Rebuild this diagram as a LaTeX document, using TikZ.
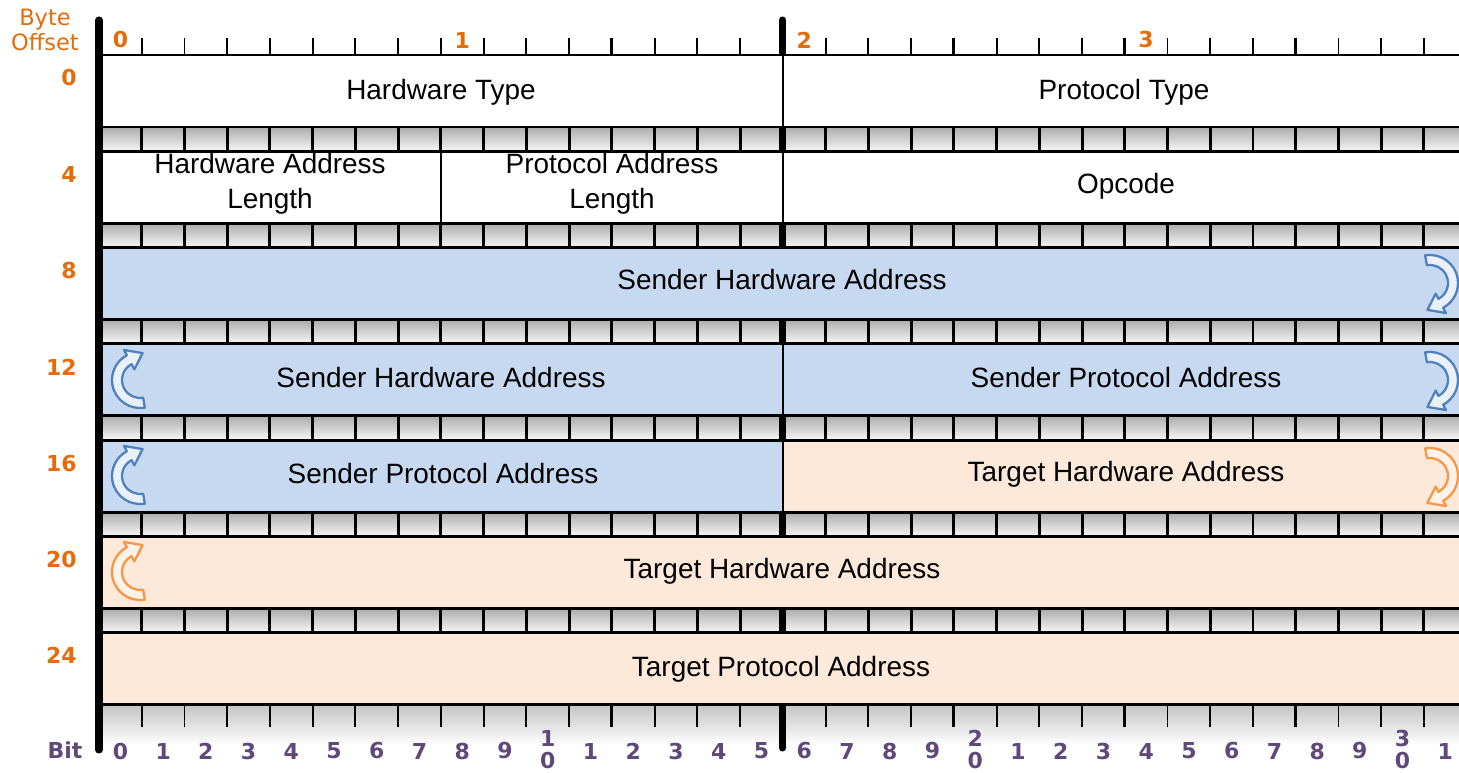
\documentclass[tikz,border=0pt]{standalone}
\usepackage{fontspec}
\setmainfont{Liberation Sans}
\newfontfamily\rulerfont{DejaVu Sans}
\usepackage{tikz}
\usetikzlibrary{calc}

\definecolor{offsetorange}{HTML}{E46C0A}
\definecolor{bitpurple}{HTML}{5F497A}
\definecolor{senderblue}{HTML}{C6D9F1}
\definecolor{targetpeach}{HTML}{FDE9D9}
\definecolor{arrowblue}{HTML}{4F81BD}
\definecolor{arrowpeach}{HTML}{F79646}

% hollow bent arrow: colour, centre x, centre y, rotation
\newcommand{\wraparrow}[4]{%
  \begin{scope}[shift={(#2,#3)},x=0.02cm,y=0.02cm,rotate=#4]
    \draw[#1,line width=1.3pt,fill=#1!12,line join=round]
      (100:28) arc[start angle=100,end angle=-62,radius=28] -- (-62:34)
      -- (-2.6,-26.9) -- (-62:12) -- (-62:18)
      arc[start angle=-62,end angle=100,radius=18] -- cycle;
  \end{scope}}

\begin{document}
\begin{tikzpicture}[x=0.02cm,y=-0.02cm,
  field/.style={font=\fontsize{15.9}{19.8}\selectfont,align=center,inner sep=0pt},
  offsetlbl/.style={font=\rulerfont\bfseries\fontsize{12.5}{14}\selectfont,text=offsetorange,anchor=east,inner sep=0pt},
  bitlbl/.style={font=\rulerfont\bfseries\fontsize{12.5}{12.8}\selectfont,text=bitpurple,inner sep=0pt,align=center},
  rulerline/.style={line width=1.4pt},
  smalltick/.style={line width=1.1pt},
  bigtick/.style={line width=1.6pt},
  cellbar/.style={line width=1.7pt},
  spine/.style={line width=4pt,line cap=round}]
\useasboundingbox (0,0) rectangle (1459,773);
\clip (0,0) rectangle (1459,773);
% Row fills (left half / right half)
\foreach \r/\lf/\rf in {0/white/white,1/white/white,2/senderblue/senderblue,
    3/senderblue/senderblue,4/senderblue/targetpeach,5/targetpeach/targetpeach,
    6/targetpeach/targetpeach}{
  \pgfmathsetmacro\rowtop{55+96.3*\r}
  \fill[\lf] (99,\rowtop) rectangle (782.8,\rowtop+72);
  \fill[\rf] (782.8,\rowtop) rectangle (1470,\rowtop+72);
}
% Bit strips between rows
\foreach \r in {0,...,5}{
  \pgfmathsetmacro\rowtop{55+96.3*\r}
  \shade[top color=gray!65,bottom color=gray!6] (99,\rowtop+72) rectangle (1470,\rowtop+96.3);
  \foreach \i in {1,...,33}
    \draw[cellbar] (99+42.74*\i,\rowtop+72) -- ++(0,24.3);
  \draw[line width=4pt] (782.8,\rowtop+72) -- ++(0,24.3);
}
% Shadow under the bottom ruler
\shade[top color=gray!45,bottom color=white] (99,706) rectangle (1470,745);
% Row borders
\foreach \r in {0,...,6}{
  \pgfmathsetmacro\rowtop{55+96.3*\r}
  \draw[cellbar] (99,\rowtop) -- (1470,\rowtop);
  \draw[cellbar] (99,\rowtop+72) -- (1470,\rowtop+72);
}
% Field separators inside the rows
\draw[smalltick] (782.8,55) -- (782.8,127);
\draw[smalltick] (440.9,151.3) -- (440.9,223.3);
\draw[smalltick] (782.8,151.3) -- (782.8,223.3);
\draw[smalltick] (782.8,343.9) -- (782.8,415.9);
\draw[smalltick] (782.8,440.2) -- (782.8,512.2);
% Top and bottom rulers
\draw[rulerline] (99,55) -- (1470,55);
\draw[rulerline] (99,704.8) -- (1470,704.8);
\foreach \i in {1,...,15,17,18,...,33}{
  \draw[smalltick] (99+42.74*\i,38) -- (99+42.74*\i,55);
  \draw[smalltick] (99+42.74*\i,704.8) -- (99+42.74*\i,727);
}
\foreach \i in {4,8,12,20,24,28,32}{
  \draw[bigtick] (99+42.74*\i,38) -- (99+42.74*\i,55);
  \draw[bigtick] (99+42.74*\i,704.8) -- (99+42.74*\i,727);
}
% Axis and byte 2 divider
\draw[spine] (99,20) -- (99,750);
\draw[spine] (782.8,53) -- (782.8,20);
\draw[spine] (782.8,707) -- (782.8,748);
% Field names
\node[field] (hwtype) at (441,92) {Hardware Type};
\node[field] (ptype) at (1124,92) {Protocol Type};
\node[field] (hwlen) at (270,184) {Hardware Address\\Length};
\node[field] (plen) at (612,184) {Protocol Address\\Length};
\node[field] (opcode) at (1126,186) {Opcode};
\node[field] (sha1) at (782,280) {Sender Hardware Address};
\node[field] (sha2) at (441,378) {Sender Hardware Address};
\node[field] (spa1) at (1126,378) {Sender Protocol Address};
\node[field] (spa2) at (443,474) {Sender Protocol Address};
\node[field] (tha1) at (1126,474) {Target Hardware Address};
\node[field] (tha2) at (782,571) {Target Hardware Address};
\node[field] (tpa) at (781,669) {Target Protocol Address};
% Wrap-around arrows
\wraparrow{arrowblue}{1430}{283}{0}
\wraparrow{arrowblue}{1430}{380}{0}
\wraparrow{arrowpeach}{1430}{476}{0}
\wraparrow{arrowblue}{140}{380}{180}
\wraparrow{arrowblue}{140}{476}{180}
\wraparrow{arrowpeach}{140}{572}{180}
% Byte offsets
\node[font=\rulerfont\fontsize{12.8}{13.8}\selectfont,text=offsetorange,align=center,inner sep=0pt]
  (byteoffset) at (45,30) {Byte\\Offset};
\foreach \r/\off in {0/0,1/4,2/8,3/12,4/16,5/20,6/24}
  \node[offsetlbl] (off\off) at (77,78+96.3*\r) {\off};
\foreach \b in {0,...,3}
  \node[offsetlbl,anchor=center] (byte\b) at (120.4+341.9*\b,40) {\b};
% Bit numbers
\node[bitlbl] (bit) at (65,750) {Bit};
\foreach \i in {0,...,31}{
  \pgfmathtruncatemacro\units{mod(\i,10)}
  \pgfmathtruncatemacro\tens{\i/10}
  \ifnum\units=0 \ifnum\i>0
    \node[bitlbl] (bit\i) at (120.4+42.74*\i,749.5) {\tens\\0};
  \else
    \node[bitlbl] (bit\i) at (120.4+42.74*\i,751) {\units};
  \fi\else
    \node[bitlbl] (bit\i) at (120.4+42.74*\i,751) {\units};
  \fi
}
\end{tikzpicture}
\end{document}
